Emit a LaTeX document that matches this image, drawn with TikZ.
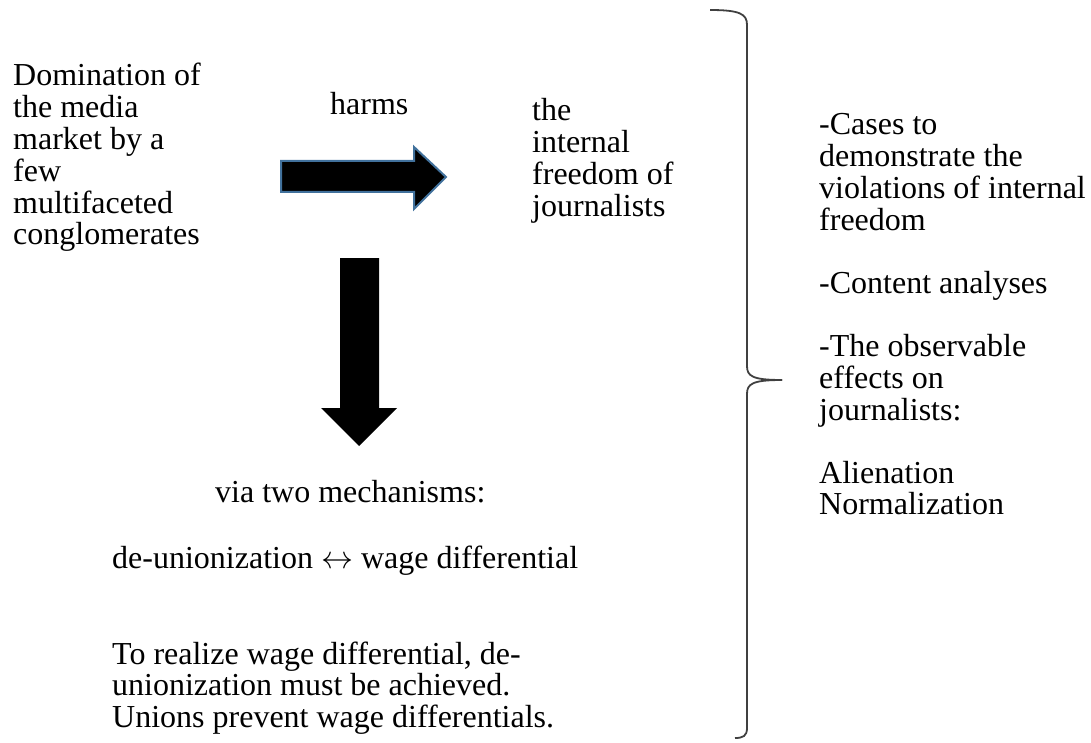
\RequirePackage{fix-cm}
\documentclass[tikz,border=0pt]{standalone}
\usepackage{fontspec}
\setmainfont{Liberation Serif}
\definecolor{arrowborder}{RGB}{65,113,156}
\definecolor{bracecol}{RGB}{64,64,64}
\tikzset{
  txt/.style={anchor=base west, inner sep=0pt, font=\fontsize{32}{31.4}\selectfont},
  blockarrow/.style={fill=black},
  bordered/.style={draw=arrowborder, line width=2pt, line join=miter},
  bracepath/.style={draw=bracecol, line width=1.8pt}
}
\begin{document}
\begin{tikzpicture}[x=1pt,y=-1pt]
\useasboundingbox (0,0) rectangle (1091,743);
% texts
\node[txt] (dom) at (13,86) {\begin{tabular}[t]{@{}l@{}}Domination of\\the media\\market by a\\few\\multifaceted\\conglomerates\end{tabular}};
\node[txt] (harms) at (330,115) {harms};
\node[txt] (freedom) at (532,121) {\begin{tabular}[t]{@{}l@{}}the\\internal\\freedom of\\journalists\end{tabular}};
\node[txt] (evidence) at (819,135) {\begin{tabular}[t]{@{}l@{}}-Cases to\\demonstrate the\\violations of internal\\freedom\\[31.4pt]-Content analyses\\[31.4pt]-The observable\\effects on\\journalists:\\[31.4pt]Alienation\\Normalization\end{tabular}};
\node[txt] (via) at (215,502) {via two mechanisms:};
\node[txt] (mech) at (112,568) {de-unionization $\leftrightarrow$ wage differential};
\node[txt] (expl) at (112,664) {\begin{tabular}[t]{@{}l@{}}To realize wage differential, de-\\unionization must be achieved.\\Unions prevent wage differentials.\end{tabular}};
% right block arrow
\path[blockarrow, bordered] (281,161) -- (414,161) -- (414,147) -- (446,177) -- (414,209) -- (414,192) -- (281,192) -- cycle;
% down block arrow
\path[blockarrow] (340,258) -- (379,258) -- (379,408) -- (397,408) -- (359,446) -- (321,408) -- (340,408) -- cycle;
% brace
\draw[bracepath] (710,10) .. controls (740,10) and (747,14) .. (747,25) -- (747,366) .. controls (747,376) and (752,380) .. (782,380);
\draw[bracepath] (782,380) .. controls (752,380) and (747,384) .. (747,394) -- (747,728) .. controls (747,736) and (743,738) .. (735,738);
\end{tikzpicture}
\end{document}
